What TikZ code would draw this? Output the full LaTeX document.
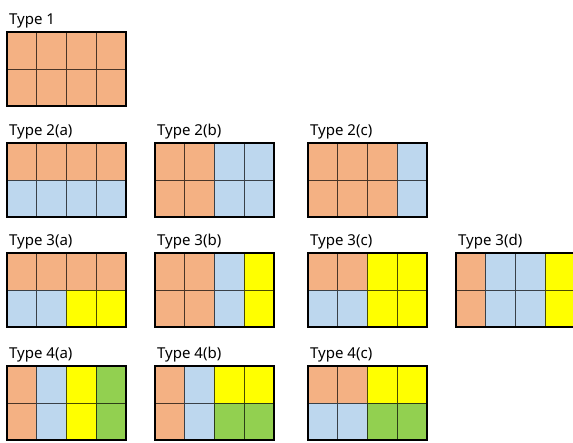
\documentclass[tikz,border=0pt]{standalone}
\usepackage{fontspec}
\setmainfont{Noto Sans}
\definecolor{cellor}{HTML}{F4B183}
\definecolor{cellbl}{HTML}{BDD7EE}
\definecolor{cellye}{HTML}{FFFF00}
\definecolor{cellgr}{HTML}{92D050}

\tikzset{
  typelabel/.style={anchor=base west, inner sep=0pt, font=\fontsize{15}{18}\selectfont},
  frame/.style={draw=black, line width=1.6pt},
}

% #1 name, #2 left x, #3 top y, #4 label, #5 cell colours (top row, then bottom row)
\newcommand{\typegrid}[5]{%
  \foreach \c [count=\i from 0] in {#5} {
    \pgfmathtruncatemacro{\col}{mod(\i,4)}
    \pgfmathtruncatemacro{\row}{\i/4}
    \filldraw[fill=\c, draw=\c!30!black, line width=0.8pt]
      ({#2+\col*29.75},{#3+\row*37}) rectangle ++(29.75,37);
  }
  \draw[frame] (#2,#3) rectangle ++(119,74);
  \node[typelabel] (#1) at (#2+2,#3-8) {#4};
}

\begin{document}
\begin{tikzpicture}[x=1pt, y=-1pt]
  \useasboundingbox (0,0) rectangle (573,442);
  % row 1
  \typegrid{t1}{7}{32}{Type 1}{cellor,cellor,cellor,cellor,cellor,cellor,cellor,cellor}
  % row 2
  \typegrid{t2a}{7}{143}{Type 2(a)}{cellor,cellor,cellor,cellor,cellbl,cellbl,cellbl,cellbl}
  \typegrid{t2b}{155}{143}{Type 2(b)}{cellor,cellor,cellbl,cellbl,cellor,cellor,cellbl,cellbl}
  \typegrid{t2c}{308}{143}{Type 2(c)}{cellor,cellor,cellor,cellbl,cellor,cellor,cellor,cellbl}
  % row 3
  \typegrid{t3a}{7}{253}{Type 3(a)}{cellor,cellor,cellor,cellor,cellbl,cellbl,cellye,cellye}
  \typegrid{t3b}{155}{253}{Type 3(b)}{cellor,cellor,cellbl,cellye,cellor,cellor,cellbl,cellye}
  \typegrid{t3c}{308}{253}{Type 3(c)}{cellor,cellor,cellye,cellye,cellbl,cellbl,cellye,cellye}
  \typegrid{t3d}{456}{253}{Type 3(d)}{cellor,cellbl,cellbl,cellye,cellor,cellbl,cellbl,cellye}
  % row 4
  \typegrid{t4a}{7}{366}{Type 4(a)}{cellor,cellbl,cellye,cellgr,cellor,cellbl,cellye,cellgr}
  \typegrid{t4b}{155}{366}{Type 4(b)}{cellor,cellbl,cellye,cellye,cellor,cellbl,cellgr,cellgr}
  \typegrid{t4c}{308}{366}{Type 4(c)}{cellor,cellor,cellye,cellye,cellbl,cellbl,cellgr,cellgr}
\end{tikzpicture}
\end{document}
